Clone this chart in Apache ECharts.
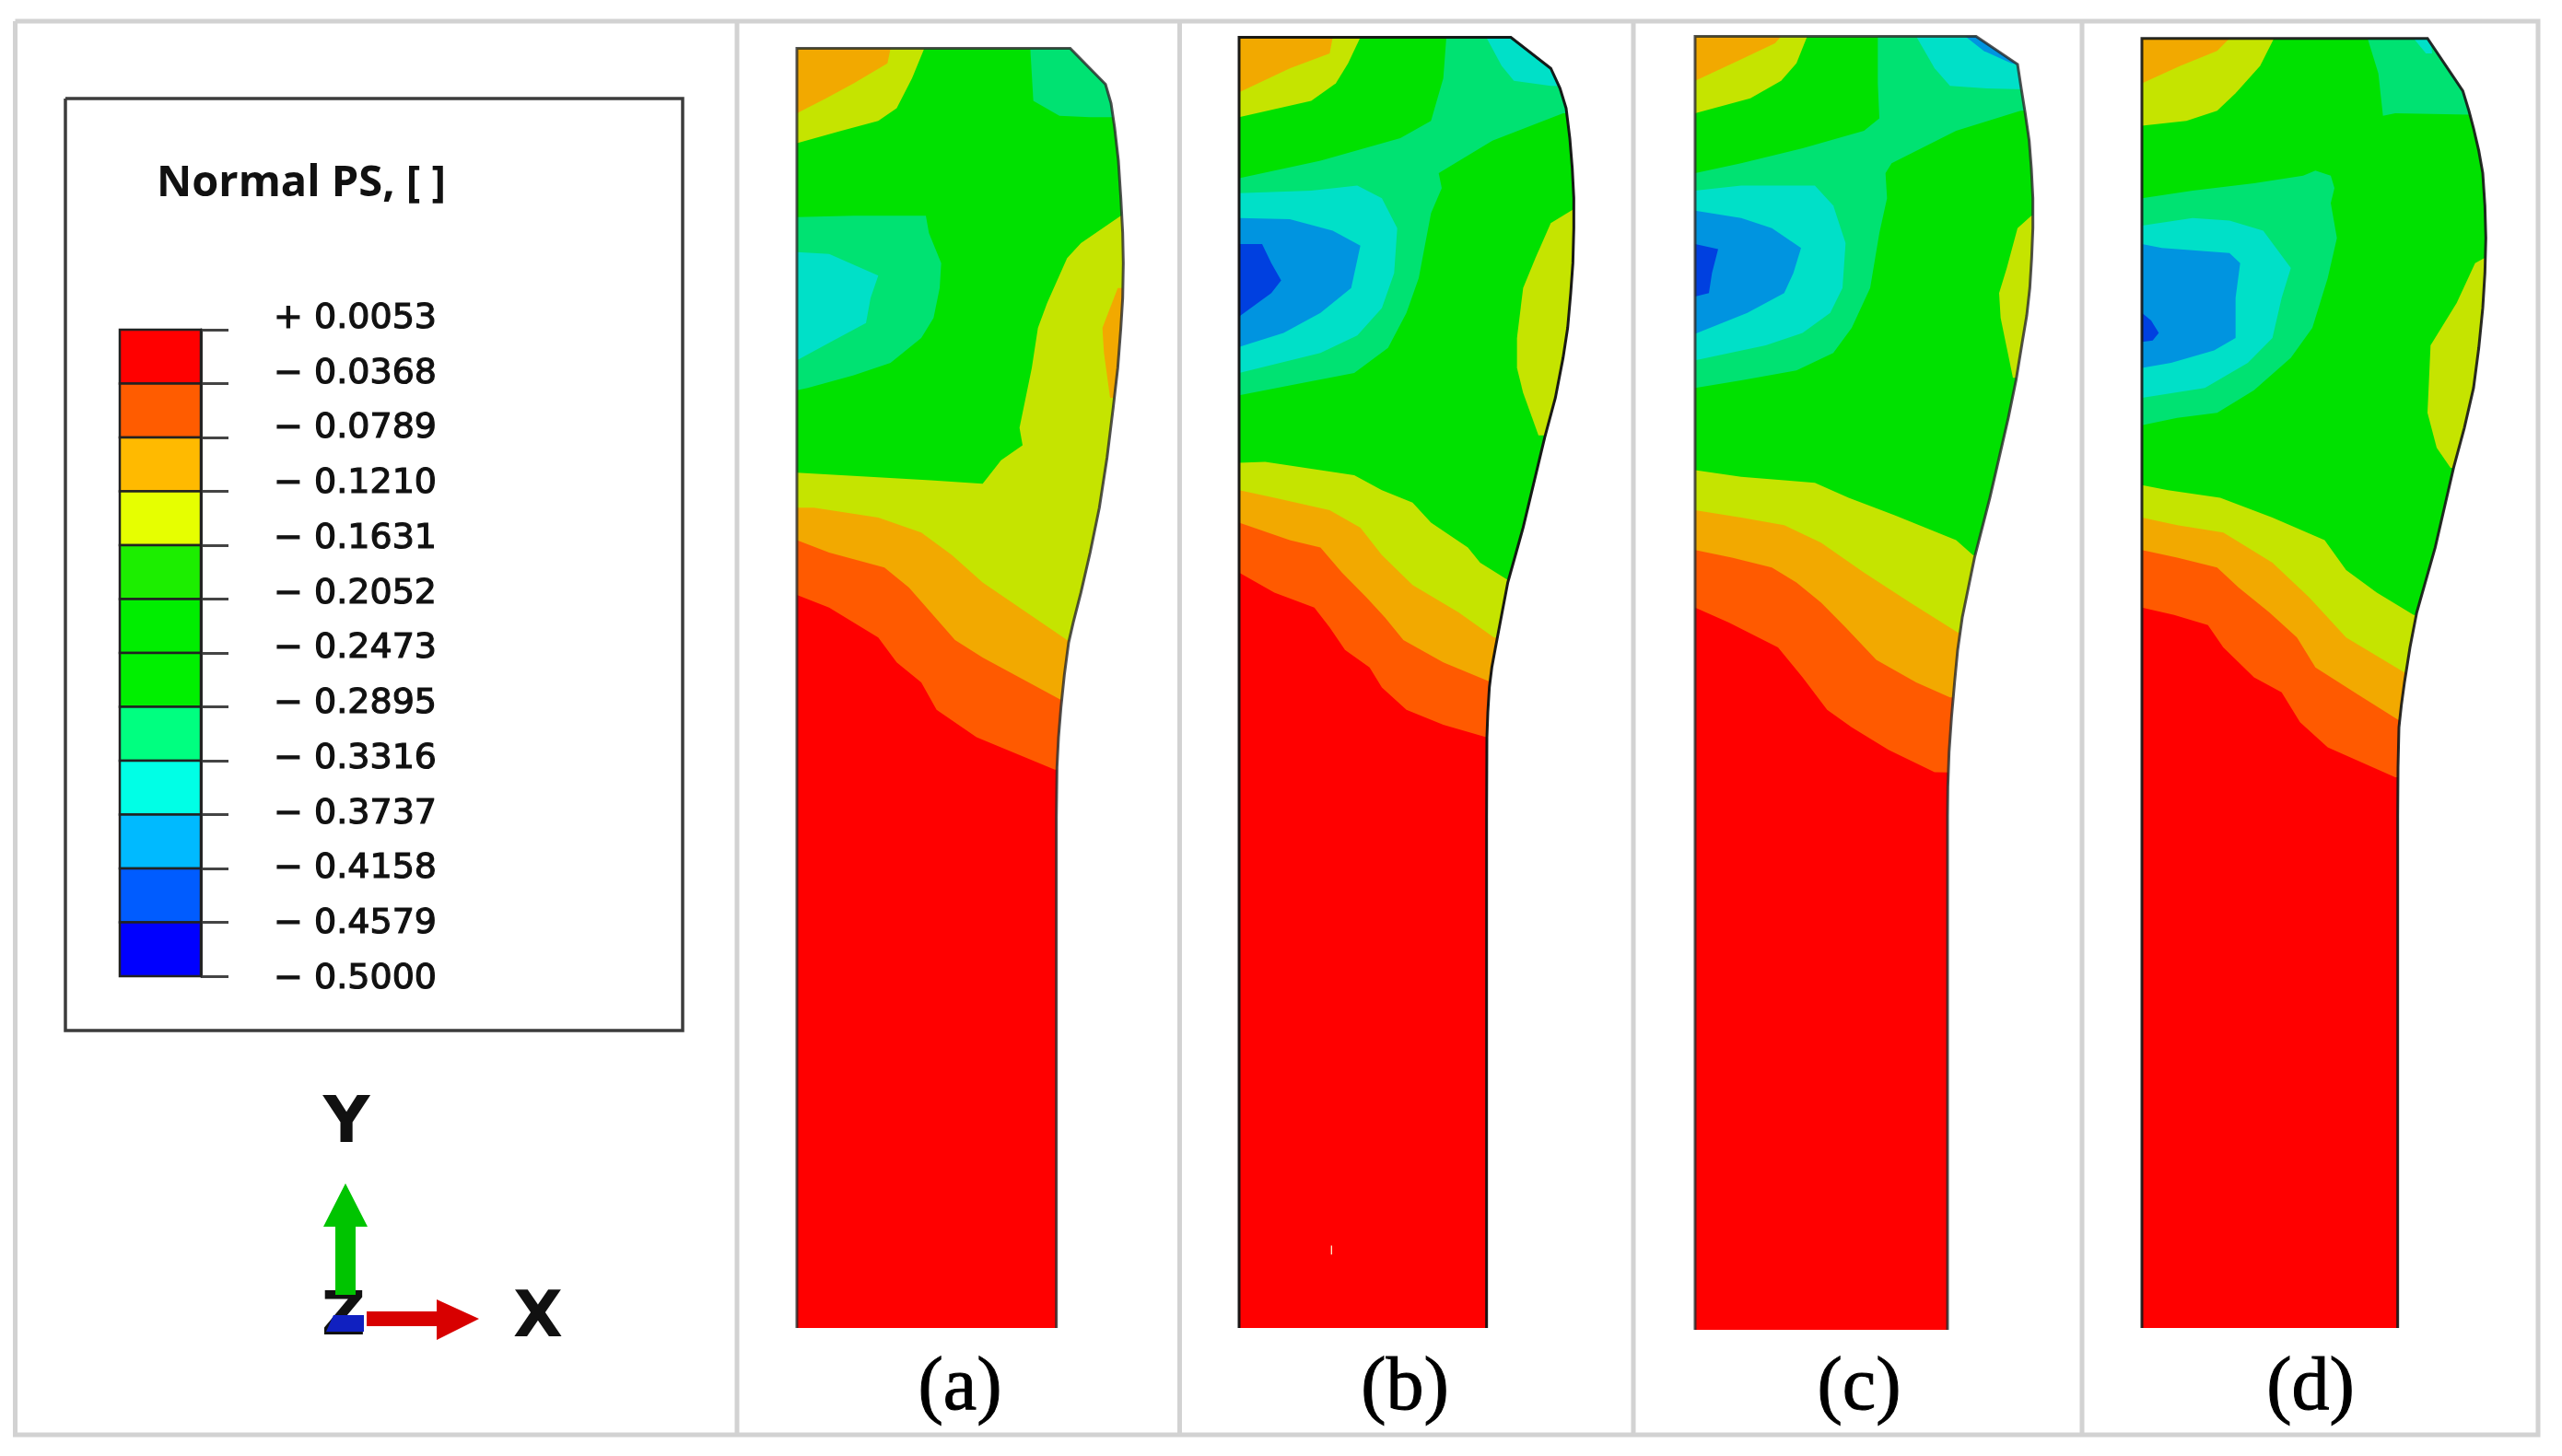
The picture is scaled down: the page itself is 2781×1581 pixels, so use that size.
<!DOCTYPE html>
<html><head><meta charset="utf-8">
<style>html,body{margin:0;padding:0;background:#fff}#c{width:2781px;height:1581px}</style>
<script src="https://cdn.jsdelivr.net/npm/echarts@6/dist/echarts.min.js"></script>
</head><body><div id="c"></div>
<script>
// Legend
const legendTitle = 'Normal PS, [ ]';
const tickLabels = ['+ 0.0053','− 0.0368','− 0.0789','− 0.1210','− 0.1631','− 0.2052','− 0.2473','− 0.2895','− 0.3316','− 0.3737','− 0.4158','− 0.4579','− 0.5000'];
const legendColors = ['#ff0000','#ff5c00','#ffba00','#e6ff00','#1cee00','#00ee00','#00f000','#00ff80','#00ffe6','#00baff','#005cff','#0000ff'];
// Contour bands as they appear on the plots
const contourColors = ['#ff0000','#ff5a00','#f2a900','#c5e400','#00e100','#00e272','#00e0c8','#0094e0','#0040e0','#ffe8c8'];
const panelLabels = ['(a)','(b)','(c)','(d)'];

// Digitized contours (layer = [band, points, closedToBottom])
const outlineA = [[195,60],[1085,60],[1200,132],[1218,170],[1230,220],[1242,285],[1250,360],[1256,430],[1258,490],[1256,560],[1250,620],[1240,700],[1225,780],[1205,880],[1180,980],[1150,1070],[1120,1150],[1095,1210],[1080,1250],[1066,1315],[1055,1380],[1047,1440],[1042,1500],[1040,1600],[1040,2623]];
const layersA = [
 [3,[[195,60],[610,60],[570,120],[520,180],[460,205],[340,225],[195,250]]],
 [2,[[195,60],[500,60],[490,90],[380,130],[290,160],[195,190]]],
 [5,[[955,60],[1400,60],[1400,198],[1150,198],[1050,195],[965,165]]],
 [5,[[195,398],[380,395],[615,395],[625,430],[665,490],[660,540],[640,600],[600,640],[500,690],[380,715],[230,740],[195,745]]],
 [6,[[195,468],[300,472],[460,515],[435,560],[420,610],[300,650],[195,685]]],
 [3,[[195,910],[340,915],[630,925],[800,932],[860,885],[930,855],[920,820],[960,700],[980,620],[1010,570],[1075,480],[1120,450],[1250,395],[1400,395]],1],
 [2,[[1240,540],[1190,620],[1195,670],[1215,760],[1300,760],[1300,540]]],
 [2,[[195,980],[250,980],[460,1000],[600,1030],[700,1075],[800,1130],[1075,1245],[1400,1245]],1],
 [1,[[195,1045],[300,1070],[480,1100],[560,1140],[660,1210],[710,1245],[800,1280],[1055,1365],[1400,1365]],1],
 [0,[[195,1155],[300,1180],[460,1240],[520,1290],[600,1330],[650,1385],[780,1440],[1035,1505],[1400,1505]],1]
];
const outlineB = [[135,38],[1020,38],[1150,100],[1180,140],[1200,180],[1212,240],[1220,300],[1225,360],[1225,420],[1222,490],[1215,550],[1205,620],[1190,680],[1165,760],[1130,840],[1095,930],[1060,1020],[1035,1075],[1010,1130],[990,1195],[970,1260],[958,1300],[950,1340],[945,1390],[942,1440],[941,1600],[941,2623]];
const layersB = [
 [3,[[135,38],[530,38],[490,90],[450,130],[370,165],[135,198]]],
 [2,[[135,38],[440,38],[430,70],[300,100],[135,148]]],
 [5,[[810,38],[800,120],[760,205],[660,240],[400,285],[135,320],[135,755],[300,735],[510,710],[620,660],[680,590],[720,520],[760,390],[795,340],[785,310],[960,245],[1190,190],[1400,190],[1400,38]]],
 [6,[[940,38],[1400,38],[1400,138],[1150,135],[1030,125],[990,95]]],
 [6,[[135,350],[370,345],[520,335],[600,360],[650,420],[640,510],[600,580],[520,635],[400,670],[135,710]]],
 [7,[[135,400],[300,402],[440,425],[530,455],[500,540],[400,590],[280,630],[135,658]]],
 [8,[[135,452],[210,452],[240,490],[272,525],[240,550],[135,597]]],
 [3,[[1230,380],[1150,410],[1100,480],[1060,540],[1040,640],[1040,700],[1060,750],[1110,835],[1300,835],[1300,380]]],
 [3,[[135,890],[220,888],[400,905],[510,915],[600,945],[700,970],[760,1010],[880,1060],[920,1090],[1010,1125],[1400,1125]],1],
 [2,[[135,945],[250,960],[430,985],[530,1020],[600,1075],[700,1135],[850,1190],[965,1240],[1400,1240]],1],
 [1,[[135,1010],[300,1045],[400,1060],[470,1110],[550,1160],[610,1200],[670,1245],[800,1290],[950,1328],[1400,1328]],1],
 [0,[[135,1110],[250,1150],[380,1180],[430,1220],[480,1265],[560,1300],[600,1340],[680,1385],[800,1415],[940,1440],[1400,1440]],1],
 [9,[[434,2458],[438,2458],[438,2476],[434,2476]]]
];
const outlineC = [[150,36],[1065,36],[1200,92],[1212,140],[1225,190],[1238,245],[1245,300],[1250,360],[1250,420],[1246,480],[1240,540],[1230,595],[1215,650],[1195,725],[1170,800],[1140,880],[1110,960],[1085,1020],[1060,1080],[1040,1140],[1020,1200],[1005,1265],[995,1330],[985,1400],[977,1470],[973,1540],[972,1600],[972,2627]];
const layersC = [
 [3,[[150,36],[515,36],[480,90],[430,125],[330,160],[150,190]]],
 [2,[[150,36],[430,36],[410,50],[290,85],[150,125]]],
 [5,[[745,36],[745,130],[750,200],[700,225],[500,260],[300,290],[150,310],[150,740],[300,725],[480,705],[600,670],[660,620],[720,540],[750,430],[775,360],[770,310],[790,290],[1000,225],[1210,185],[1400,185],[1400,36]]],
 [6,[[870,36],[1400,36],[1400,145],[1100,140],[980,135],[930,100]]],
 [7,[[1030,36],[1400,36],[1400,110],[1180,90],[1090,65]]],
 [6,[[150,345],[300,335],[540,335],[600,375],[640,450],[630,540],[590,590],[500,630],[380,655],[150,685]]],
 [7,[[150,385],[300,400],[400,420],[495,460],[470,510],[440,550],[320,590],[150,632]]],
 [8,[[150,452],[225,462],[205,510],[195,550],[150,557]]],
 [3,[[1245,395],[1200,420],[1165,500],[1140,550],[1145,600],[1165,660],[1185,720],[1300,720],[1300,395]]],
 [3,[[150,905],[300,918],[440,925],[540,930],[650,960],[800,995],[1000,1045],[1055,1075],[1400,1075]],1],
 [2,[[150,985],[300,1000],[440,1015],[560,1050],[700,1110],[850,1170],[1005,1230],[1400,1230]],1],
 [1,[[150,1065],[270,1080],[400,1100],[480,1130],[560,1170],[640,1220],[740,1285],[870,1330],[980,1360],[1400,1360]],1],
 [0,[[150,1180],[260,1210],[420,1260],[500,1320],[580,1385],[660,1420],[780,1465],[930,1510],[1400,1515]],1]
];
const outlineD = [[135,40],[1065,40],[1180,145],[1200,185],[1215,220],[1232,265],[1245,310],[1252,375],[1255,440],[1252,510],[1245,580],[1232,660],[1215,740],[1185,820],[1150,900],[1120,980],[1090,1060],[1060,1125],[1030,1190],[1008,1260],[990,1330],[980,1375],[972,1420],[969,1500],[968,1600],[968,2623]];
const layersD = [
 [3,[[135,40],[565,40],[520,95],[440,150],[380,185],[280,205],[135,215]]],
 [2,[[135,40],[420,40],[380,65],[260,95],[135,130]]],
 [5,[[870,40],[1400,40],[1400,195],[960,190],[920,195],[905,110]]],
 [6,[[1020,40],[1075,40],[1080,70],[1060,70]]],
 [5,[[135,360],[300,345],[500,330],[660,315],[700,305],[750,315],[762,340],[750,370],[770,440],[740,520],[690,620],[620,680],[500,745],[380,790],[250,800],[135,815]]],
 [6,[[135,415],[300,400],[420,405],[530,425],[620,500],[590,560],[560,640],[480,690],[340,740],[135,760]]],
 [7,[[135,452],[200,460],[420,470],[455,490],[440,560],[440,640],[370,665],[230,690],[135,700]]],
 [8,[[135,590],[165,605],[190,630],[170,645],[135,648]]],
 [3,[[1250,480],[1220,490],[1160,570],[1075,655],[1065,790],[1095,860],[1140,900],[1300,900],[1300,480]]],
 [3,[[135,935],[220,945],[390,960],[560,1000],[730,1045],[800,1105],[900,1150],[1020,1195],[1400,1195]],1],
 [2,[[135,1000],[250,1015],[400,1030],[560,1090],[680,1160],[800,1240],[990,1310],[1400,1310]],1],
 [1,[[135,1065],[250,1080],[380,1100],[450,1140],[550,1190],[640,1240],[700,1300],[840,1355],[970,1405],[1400,1405]],1],
 [0,[[135,1180],[240,1195],[350,1215],[400,1260],[500,1320],[590,1350],[650,1410],[740,1460],[960,1520],[1400,1520]],1]
];
const GREEN = 4;

// Panel windows (the axis ranges map digitizing units to the page)
const panels = [
 {left:800, outline:outlineA, layers:layersA, ink:'rgba(40,40,40,.8)'},
 {left:1300,outline:outlineB, layers:layersB, ink:'rgba(15,15,15,.95)'},
 {left:1790,outline:outlineC, layers:layersC, ink:'rgba(40,40,40,.8)'},
 {left:2280,outline:outlineD, layers:layersD, ink:'rgba(20,20,20,.9)'}
];
const panelTop = 20, panelWidth = 490, panelHeight = 1430, unitsX = 3, unitsY = 1568/850;
const labelCenters = [1042,1525,2018,2508];

// Page furniture
const frameLines = [[[16.5,23],[2755,23],[2755,1558],[16.5,1558],[16.5,23]],[[800,23],[800,1558]],[[1280.5,23],[1280.5,1558]],[[1773,23],[1773,1558]],[[2260,23],[2260,1558]]];
const legendBox = [[71,107],[741,107],[741,1119],[71,1119],[71,107]];
const arrowY = [[375,1285],[399,1332],[386,1332],[386,1406],[364,1406],[364,1332],[351,1332]];
const arrowX = [[398,1424],[474,1424],[474,1411],[520,1432],[474,1455],[474,1440],[398,1440]];
const zPatch = [[362,1428],[395,1428],[395,1446],[354,1446]];

const chart = echarts.init(document.getElementById('c'), null, {renderer:'canvas'});
const grids=[], xAxes=[], yAxes=[], series=[];

function addGrid(g,x,y){grids.push(g);x.gridIndex=y.gridIndex=grids.length-1;xAxes.push(x);yAxes.push(y);return grids.length-1;}
function hidden(min,max,inverse){return {type:'value',min,max,inverse:!!inverse,show:false};}
function shapes(idx,list,z){ // list: {pts,fill,stroke,width}
  series.push({type:'custom',coordinateSystem:'cartesian2d',xAxisIndex:idx,yAxisIndex:idx,z,silent:true,animation:false,clip:false,
    data:list.map((s,i)=>[i,0]),
    renderItem:(p,api)=>{const s=list[api.value(0)];const points=s.pts.map(q=>api.coord(q));
      return {type:s.fill?'polygon':'polyline',shape:{points},style:s.fill?{fill:s.fill,stroke:s.stroke||null,lineWidth:s.width||0}:{fill:null,stroke:s.stroke,lineWidth:s.width,lineJoin:'miter'}};}
  });
}

// plots
panels.forEach((P,k)=>{
  const idx=addGrid({left:P.left,top:panelTop,width:panelWidth,height:panelHeight},hidden(0,panelWidth*unitsX),hidden(0,panelHeight*unitsY,true));
  const o=P.outline,L=o[0][0],T=o[0][1],R=o[o.length-1][0],B=o[o.length-1][1];
  const list=[{pts:[[L,T],[1400,T],[1400,B],[L,B]],fill:contourColors[GREEN]}];
  P.layers.forEach(l=>{
    const pts=l[2]?l[1].concat([[1400,B],[L,B]]):l[1];
    list.push({pts,fill:contourColors[l[0]]});
  });
  list.push({pts:o.slice(1).concat([[1450,B+4],[1450,T-6],[o[1][0],T-6]]),fill:'#ffffff'});
  list.push({pts:[[L,B]].concat(o),stroke:P.ink,width:3});
  shapes(idx,list,2+k);
});

// page layer: frame, legend box, triad
const pageIdx=addGrid({left:0,top:0,width:2781,height:1581},hidden(0,2781),hidden(0,1581,true));
shapes(pageIdx,[
  ...frameLines.map(pts=>({pts,stroke:'#d2d2d2',width:5})),
  {pts:legendBox,stroke:'#3c3c3c',width:3.5},
  {pts:arrowY,fill:'#00c400'},
  {pts:arrowX,fill:'#d80000'},
  {pts:zPatch,fill:'#1020c0'}
],10);

// colour bar, with its own scale of band edges
const barIdx=addGrid({left:130,top:358,width:88,height:702},hidden(0,1),
  {type:'value',min:0,max:legendColors.length,interval:1,inverse:true,position:'right',
   axisLine:{show:true,onZero:false,lineStyle:{color:'#2a2a2a',width:3}},axisTick:{show:true,length:30,inside:false,lineStyle:{color:'#444',width:3}},
   axisLabel:{show:false},splitLine:{show:false}});
series.push({type:'custom',coordinateSystem:'cartesian2d',xAxisIndex:barIdx,yAxisIndex:barIdx,z:11,silent:true,animation:false,
  data:legendColors.map((c,i)=>[i]),
  renderItem:(p,api)=>{const i=api.value(0);const a=api.coord([0,i]),b=api.coord([1,i+1]);
    return {type:'rect',shape:{x:a[0],y:a[1],width:b[0]-a[0],height:b[1]-a[1]},style:{fill:legendColors[i],stroke:'#222',lineWidth:2.5}};}
});

// tick labels
addGrid({left:474,top:346,width:10,height:717},hidden(0,1),
  {type:'category',data:tickLabels,boundaryGap:false,inverse:true,position:'left',
   axisLine:{show:false,onZero:false},axisTick:{show:false},splitLine:{show:false},
   axisLabel:{show:true,interval:0,margin:0,color:'#111',fontFamily:'DejaVu Sans',fontSize:38,textBorderColor:'#111',textBorderWidth:1.2}});

const titles=[
  {text:legendTitle,left:170,top:176,padding:0,textStyle:{fontFamily:'Open Sans',fontWeight:'bold',fontSize:47,color:'#111'}},
  {text:'Y',left:376,top:1187,padding:0,textAlign:'center',textStyle:{fontFamily:'DejaVu Sans',fontWeight:'bold',fontSize:70,color:'#111'}},
  {text:'X',left:584,top:1398,padding:0,textAlign:'center',textStyle:{fontFamily:'DejaVu Sans',fontWeight:'bold',fontSize:70,color:'#111'}},
  {text:'Z',left:373,top:1399,padding:0,textAlign:'center',textStyle:{fontFamily:'DejaVu Sans',fontWeight:'bold',fontSize:66,color:'#111'}},
  ...panelLabels.map((t,i)=>({text:t,left:labelCenters[i],top:1467,padding:0,textAlign:'center',textStyle:{fontFamily:'Liberation Serif',fontSize:82,fontWeight:'normal',color:'#000',textBorderColor:'#000',textBorderWidth:1}}))
];

chart.setOption({animation:false,backgroundColor:'#fff',title:titles,grid:grids,xAxis:xAxes,yAxis:yAxes,series});
</script></body></html>
